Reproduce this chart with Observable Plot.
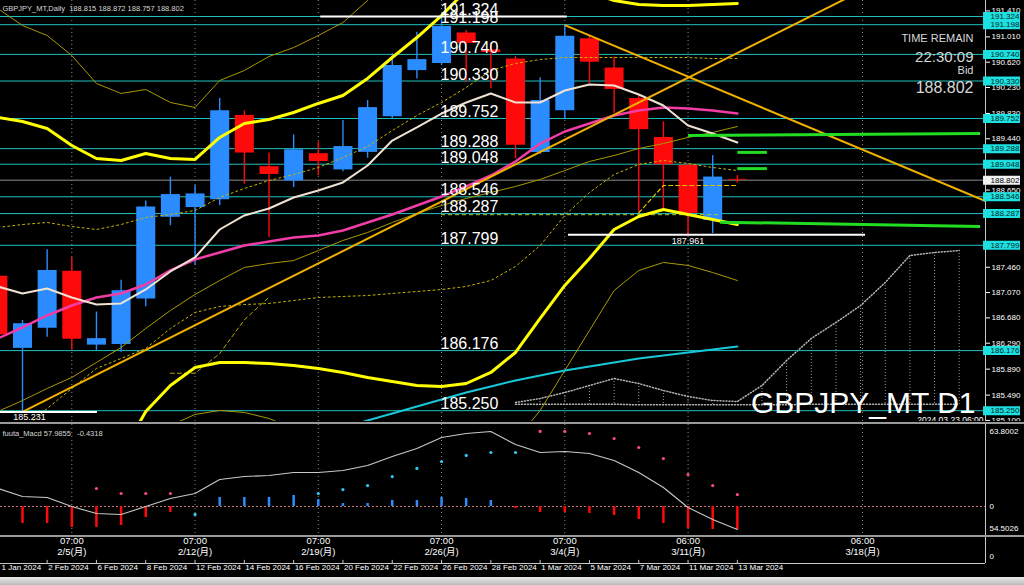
<!DOCTYPE html>
<html><head><meta charset="utf-8">
<script src="https://cdn.jsdelivr.net/npm/d3@7"></script>
<script src="https://cdn.jsdelivr.net/npm/@observablehq/plot@0.6"></script>
<style>
html,body{margin:0;padding:0;background:#000;}
#wrap{position:relative;width:1024px;height:585px;background:#000;overflow:hidden;}
#wrap > div{position:absolute;left:0;}
</style></head><body><div id="wrap"></div>
<script>
// ---------- DATA ----------
const dates = ["2024-01-31","2024-02-01","2024-02-02","2024-02-05","2024-02-06","2024-02-07","2024-02-08","2024-02-09","2024-02-12","2024-02-13","2024-02-14","2024-02-15","2024-02-16","2024-02-19","2024-02-20","2024-02-21","2024-02-22","2024-02-23","2024-02-26","2024-02-27","2024-02-28","2024-02-29","2024-03-01","2024-03-04","2024-03-05","2024-03-06","2024-03-07","2024-03-08","2024-03-11","2024-03-12","2024-03-13"];
const open  = [187.32,186.21,186.52,187.40,186.26,186.27,186.97,188.23,188.38,188.50,189.80,189.01,188.79,189.21,188.96,189.23,189.78,190.49,190.60,191.07,190.81,190.67,189.23,189.87,190.98,190.53,190.06,189.46,189.03,188.18,188.815];
const high  = [187.50,186.64,187.73,187.61,186.77,187.26,188.48,188.85,188.72,190.06,189.87,189.22,189.50,189.39,189.72,190.03,190.75,191.08,191.324,191.11,190.91,190.71,190.38,191.198,191.03,190.70,190.11,189.70,189.05,189.18,188.872];
const low   = [186.30,185.231,186.38,186.18,186.18,186.15,186.85,188.10,187.49,188.41,188.74,187.92,188.69,188.87,188.93,189.14,189.75,190.36,190.57,190.31,190.21,189.13,189.20,189.75,190.29,189.83,188.31,188.36,187.961,187.98,188.757];
const close = [186.42,186.59,187.41,186.35,186.36,187.10,188.39,188.58,188.59,189.87,189.22,188.89,189.27,189.09,189.32,189.92,190.57,190.66,191.17,190.91,190.77,189.34,190.03,191.02,190.62,190.20,189.58,189.04,188.29,188.85,188.802];

const maFast = [187.164,187.056,187.133,186.994,186.886,186.902,187.118,187.395,187.611,188.042,188.258,188.366,188.535,188.643,188.767,189.028,189.413,189.614,189.829,189.999,190.138,189.999,189.999,190.184,190.276,190.261,190.122,189.953,189.645,189.521,189.383];
const maMid = [186.363,186.532,186.717,186.871,186.994,187.056,187.195,187.411,187.580,187.688,187.796,187.857,187.919,187.950,188.027,188.150,188.273,188.412,188.551,188.705,188.874,189.090,189.367,189.552,189.675,189.799,189.876,189.922,189.906,189.876,189.829];
const maLong = [185.238,185.407,185.592,185.762,185.993,186.224,186.517,186.794,187.041,187.256,187.457,187.518,187.564,187.718,187.873,187.996,188.150,188.289,188.412,188.520,188.612,188.705,188.813,188.951,189.090,189.182,189.290,189.367,189.460,189.537,189.629];
const maSlow = [null,null,null,null,null,null,null,null,null,null,null,null,null,null,184.99,185.099,185.207,185.315,185.423,185.531,185.623,185.716,185.793,185.870,185.931,185.993,186.055,186.101,186.147,186.194,186.240];
const bandUp1 = [188.073,188.119,188.150,188.088,188.042,188.119,188.227,188.273,188.335,188.535,188.674,188.797,188.889,188.997,189.151,189.321,189.567,189.799,189.999,190.230,190.492,190.600,190.661,190.692,190.692,190.692,190.692,190.692,190.692,190.677,190.677];
const bandLo1 = [null,184.95,185.284,185.592,185.901,186.055,186.209,186.517,186.763,186.856,186.886,186.902,186.948,186.994,187.010,187.025,187.056,187.087,187.117,187.164,187.256,187.472,187.796,188.258,188.612,188.889,189.044,189.105,189.059,188.997,188.951];
const bandUp2 = [189.768,189.706,189.598,189.336,189.136,189.105,189.213,189.136,189.121,189.460,189.675,189.737,189.845,189.984,190.107,190.369,190.692,191.000,191.339,191.725,191.956,192.033,191.956,191.848,191.694,191.571,191.509,191.493,191.493,191.509,191.524];
const bandLo2 = [null,null,null,null,null,184.560,185.238,185.638,185.916,185.993,185.993,185.977,185.947,185.900,185.839,185.762,185.700,185.638,185.623,185.669,185.839,186.147,186.671,187.180,187.596,188.042,188.242,188.350,188.273,188.196,188.119];
const bandUp3 = [191.447,191.185,191.031,190.723,190.292,190.138,190.199,189.999,189.922,190.338,190.492,190.708,190.846,191.031,191.231,191.571,192.033,null,null,null,null,null,null,null,null,null,null,null,null,null,null];
const bandLo3 = [null,null,null,null,null,null,null,185.022,185.192,185.253,185.223,185.130,184.976,null,null,null,null,null,null,null,null,184.791,185.253,185.870,186.486,187.102,187.410,187.534,187.488,187.379,187.256];
const baseLineL = [null,null,null,null,null,null,null,185.827,185.827,186.13,186.65,187.0,null,null,null,null,null,null,null,null,null,null,null,null,null,null,null,null,null,null,null];
const baseLineR = [null,null,null,null,null,null,null,null,null,null,null,null,null,null,null,null,null,null,null,null,null,null,null,null,null,null,188.30,188.72,188.72,188.72,188.72];

const cloudStart = 20;
const cloudA = [185.376,185.438,185.530,185.638,185.746,185.669,185.561,185.469,185.407,185.392,185.638,186.024,186.363,186.609,186.871,187.226,187.641,187.688,187.718];
const cloudB = [185.35,185.35,185.35,185.35,185.35,185.34,185.34,185.34,185.34,185.34,185.34,185.34,185.35,185.35,185.35,185.35,185.35,185.35,185.35];

const levels = [191.324,191.198,190.740,190.330,189.752,189.288,189.048,188.546,188.287,187.799,186.176,185.250];
const bid = 188.802;
const priceTicks = [191.410,191.010,190.620,190.230,189.830,189.440,188.650,187.460,187.070,186.680,186.290,185.890,185.490,185.100];
const whiteLines = [{p:191.324, from:12.1, to:22.1}, {p:185.231, from:-0.9, to:3.04}, {p:187.961, from:22.15, to:34.2}];
const trendLines = [{i1:0, p1:185.231, i2:39.07, p2:192.68}, {i1:22, p1:191.19, i2:39.07, p2:188.48}];
const greenLines = [{i1:27, p1:189.49, i2:38.85, p2:189.52},{i1:29, p1:189.23, i2:30.2, p2:189.23},{i1:29, p1:188.98, i2:30.2, p2:188.98},{i1:28.3, p1:188.155, i2:38.85, p2:188.088}];
const dashedLevel = [{p:188.27, from:17, to:28.3}];

const macdLine = [14.0,7.8,7.0,0,-5.4,-6.2,0,6.2,10.1,21.0,23.3,24.1,26.5,26.5,28.0,31.9,38.9,45.1,53.7,56.8,58.4,48.2,42.0,42.8,41.2,35.8,26.5,14.8,-0.8,-10.1,-17.9];
const macdHist = [null,-13.2,-13.2,-16.3,-16.3,-14.8,-8.6,-4.7,0,7.0,7.0,7.0,8.6,5.4,2.3,2.3,4.7,4.7,7.0,6.2,4.7,-1.6,-4.7,-4.7,-5.4,-7.0,-10.1,-13.2,-17.1,-17.9,-17.9];
const macdSig = [null,null,null,null,14.0,10.1,10.1,10.1,-6.2,null,null,null,null,10.1,13.2,16.3,23.3,29.6,35.0,39.7,42.0,42.0,58.4,58.4,56.8,52.9,45.9,37.3,24.9,16.3,9.3];
const macdSigDir = ["","","","","dn","dn","dn","dn","up","","","","","up","up","up","up","up","up","up","up","up","dn","dn","dn","dn","dn","dn","dn","dn","dn"];

const axisDates = ["1 Jan 2024","2 Feb 2024","6 Feb 2024","8 Feb 2024","12 Feb 2024","14 Feb 2024","16 Feb 2024","20 Feb 2024","22 Feb 2024","26 Feb 2024","28 Feb 2024","1 Mar 2024","5 Mar 2024","7 Mar 2024","11 Mar 2024","13 Mar 2024"];
const axisDateIdx = [-0.89,1,3,5,7,9,11,13,15,17,19,21,23,25,27,29];
const jpTimes = ["07:00","07:00","07:00","07:00","07:00","06:00","06:00"];
const jpDates = ["2/5(月)","2/12(月)","2/19(月)","2/26(月)","3/4(月)","3/11(月)","3/18(月)"];
const jpIdx = [2,7,12,17,22,27,34.08];

// ---------- BUILD ----------
const X0 = -0.8925, X1 = 39.067;
const font = "'Liberation Sans', Arial, 'Noto Sans CJK JP', sans-serif";
const UP = "#2a8cff", DN = "#ff0a0a";
const series = arr => arr.map((v,k)=>({i:k-1, v}));
const bars = dates.map((d,k)=>({i:k-1, o:open[k], h:high[k], l:low[k], c:close[k]}));
const cloud = cloudA.map((a,k)=>({i:cloudStart+k, a, b:cloudB[k]}));
const fmt3 = d => d.toFixed(3);
const last = bars[bars.length-1];
const labelIdx = 17;

const wrap = document.getElementById("wrap");
function place(node, top){ const d=document.createElement("div"); d.style.top=top+"px"; d.appendChild(node); wrap.appendChild(d); return d; }
function bar(top,h,bg){ const d=document.createElement("div"); d.style.top=top+"px"; d.style.width="1024px"; d.style.height=h+"px"; d.style.background=bg; wrap.appendChild(d); }

const line = (arr, o) => Plot.line(series(arr), {x:"i", y:"v", clip:true, ...o});

const main = Plot.plot({
  width:1024, height:421, marginLeft:0, marginRight:39, marginTop:0, marginBottom:0,
  style:{background:"black", color:"white", fontFamily:font, fontSize:"8px"},
  color:{type:"identity"},
  x:{domain:[X0,X1], axis:null},
  y:{domain:[185.0835,191.5705], axis:"right", ticks:priceTicks, tickFormat:fmt3, tickSize:4, tickPadding:2, label:null},
  marks:[
    Plot.ruleX(jpIdx, {stroke:"#8a8a8a", strokeDasharray:"1,3"}),
    Plot.ruleX(cloud, {x:"i", y1:"a", y2:"b", stroke:"#9a9a9a", strokeDasharray:"1,2"}),
    Plot.line(cloud, {x:"i", y:"a", stroke:"#b4b4b4", strokeDasharray:"1,2"}),
    Plot.line(cloud, {x:"i", y:"b", stroke:"#b4b4b4", strokeDasharray:"1,2"}),
    Plot.ruleY(levels, {stroke:"#20c0c0"}),
    Plot.ruleY([bid], {stroke:"#8c8c8c"}),
    Plot.ruleX(bars, {x:"i", y1:"l", y2:"h", stroke:d=>d.c>=d.o?UP:DN, strokeWidth:1.4}),
    Plot.ruleX(bars, {x:"i", y1:"o", y2:"c", stroke:d=>d.c>=d.o?UP:DN, strokeWidth:19}),
    line(bandUp3, {stroke:"#a89800", strokeWidth:1}),
    line(bandLo3, {stroke:"#a89800", strokeWidth:1}),
    line(maLong, {stroke:"#a89800", strokeWidth:1}),
    line(bandUp1, {stroke:"#c8b400", strokeWidth:1, strokeDasharray:"2,3"}),
    line(bandLo1, {stroke:"#c8b400", strokeWidth:1, strokeDasharray:"2,3"}),
    line(baseLineL, {stroke:"#b8a800", strokeWidth:1, strokeDasharray:"4,3"}),
    line(baseLineR, {stroke:"#e0c000", strokeWidth:1.2, strokeDasharray:"4,3"}),
    Plot.ruleY(dashedLevel, {y:"p", x1:"from", x2:"to", stroke:"#b8c820", strokeDasharray:"4,3"}),
    line(bandUp2, {stroke:"#ffff00", strokeWidth:3}),
    line(bandLo2, {stroke:"#ffff00", strokeWidth:3}),
    line(maSlow, {stroke:"#18c8d8", strokeWidth:2}),
    line(maMid, {stroke:"#f23ca6", strokeWidth:2.5}),
    line(maFast, {stroke:"#f0e2d2", strokeWidth:2}),
    Plot.link(trendLines, {x1:"i1", y1:"p1", x2:"i2", y2:"p2", stroke:"#f0b000", strokeWidth:2, clip:true}),
    Plot.link(greenLines, {x1:"i1", y1:"p1", x2:"i2", y2:"p2", stroke:"#22dd22", strokeWidth:3}),
    Plot.ruleY(whiteLines, {y:"p", x1:"from", x2:"to", stroke:"white", strokeWidth:2}),
    Plot.text([whiteLines[1]], {x:()=>0, y:"p", text:d=>fmt3(d.p), dx:7, dy:5, fill:"white", fontSize:9}),
    Plot.text([whiteLines[2]], {x:()=>27, y:"p", text:d=>fmt3(d.p), dy:6, fill:"white", fontSize:9}),
    Plot.text(levels, {x:()=>labelIdx, y:d=>d, text:fmt3, textAnchor:"start", lineAnchor:"bottom", dx:-1, dy:-1.5, fill:"white", fontSize:16}),
    Plot.ruleX([X1], {stroke:"#c8c8c8"}),
    Plot.ruleY(levels, {y:d=>d, x1:()=>X1-0.08, x2:()=>X1+1.42, stroke:"#1ee0e0", strokeWidth:9}),
    Plot.text(levels, {y:d=>d, frameAnchor:"right", text:fmt3, dx:5, textAnchor:"start", fill:"#002828", fontSize:8}),
    Plot.ruleY([bid], {y:d=>d, x1:()=>X1-0.08, x2:()=>X1+1.42, stroke:"#f2f2f2", strokeWidth:9}),
    Plot.text([bid], {y:d=>d, frameAnchor:"right", text:fmt3, dx:5, textAnchor:"start", fill:"#000", fontSize:8}),
    Plot.text([`GBPJPY_MT,Daily  ${fmt3(last.o)} ${fmt3(last.h)} ${fmt3(last.l)} ${fmt3(last.c)}`], {frameAnchor:"top-left", text:d=>d, dx:2, dy:5, textAnchor:"start", fill:"#d8d8d8", fontSize:7.5}),
    Plot.text(["TIME REMAIN"], {frameAnchor:"top-right", text:d=>d, dx:-12, dy:34, textAnchor:"end", fill:"#d8d8d8", fontSize:11}),
    Plot.text(["22:30:09"], {frameAnchor:"top-right", text:d=>d, dx:-12, dy:51, textAnchor:"end", fill:"#d8d8d8", fontSize:15}),
    Plot.text(["Bid"], {frameAnchor:"top-right", text:d=>d, dx:-12, dy:66, textAnchor:"end", fill:"#d8d8d8", fontSize:11}),
    Plot.text([fmt3(bid)], {frameAnchor:"top-right", text:d=>d, dx:-12, dy:81, textAnchor:"end", fill:"#d8d8d8", fontSize:16}),
    Plot.text(["GBPJPY_MT D1"], {frameAnchor:"bottom-right", text:d=>d, dx:-10, dy:-9, textAnchor:"end", lineAnchor:"bottom", fill:"white", fontSize:30}),
    Plot.text(["2024.03.23 06:00"], {frameAnchor:"bottom-right", text:d=>d, dx:-2, dy:1, textAnchor:"end", lineAnchor:"bottom", fill:"white", fontSize:8.5})
  ]
});

const macdData = macdLine.map((m,k)=>({i:k-1, m, h:macdHist[k], s:macdSig[k], dir:macdSigDir[k]}));
const macd = Plot.plot({
  width:1024, height:111, marginLeft:0, marginRight:39, marginTop:0, marginBottom:0,
  style:{background:"black", color:"white", fontFamily:font, fontSize:"8px"},
  color:{type:"identity"},
  x:{domain:[X0,X1], axis:null},
  y:{domain:[-22.57,63.8], axis:null},
  marks:[
    Plot.ruleX(jpIdx, {stroke:"#8a8a8a", strokeDasharray:"1,3"}),
    Plot.ruleY([0], {stroke:"#c87878", strokeDasharray:"2,2"}),
    Plot.ruleX(macdData.filter(d=>d.h!=null && d.h!==0), {x:"i", y1:()=>0, y2:"h", stroke:d=>d.h<0?DN:UP, strokeWidth:2.5}),
    Plot.line(macdData, {x:"i", y:"m", stroke:"#c8c8c8", strokeWidth:1.1}),
    Plot.dot(macdData.filter(d=>d.s!=null), {x:"i", y:"s", r:1.6, fill:d=>d.dir==="up"?"#30c8f0":"#ff4a80", stroke:"none"}),
    Plot.ruleX([X1], {stroke:"#c8c8c8"}),
    Plot.text(["fuuta_Macd 57.9855   -0.4318"], {frameAnchor:"top-left", text:d=>d, dx:2, dy:6, textAnchor:"start", fill:"#d8d8d8", fontSize:7.5}),
    Plot.text(["63.8002"], {frameAnchor:"top-right", text:d=>d, dx:4, dy:4, textAnchor:"start", fill:"white", fontSize:8}),
    Plot.text([0], {y:d=>d, frameAnchor:"right", text:()=>"0", dx:4, textAnchor:"start", fill:"white", fontSize:8}),
    Plot.text(["54.5026"], {frameAnchor:"bottom-right", text:d=>d, dx:4, dy:-5, textAnchor:"start", fill:"white", fontSize:8})
  ]
});

const jp = jpIdx.map((i,k)=>({i, t:jpTimes[k], d:jpDates[k]}));
const ad = axisDateIdx.map((i,k)=>({i, t:axisDates[k]}));
const dax = Plot.plot({
  width:1024, height:40, marginLeft:0, marginRight:39, marginTop:0, marginBottom:14,
  style:{background:"black", color:"white", fontFamily:font, fontSize:"8px"},
  x:{domain:[X0,X1], axis:null},
  y:{domain:[0,1], axis:null},
  marks:[
    Plot.text(jp, {x:"i", y:()=>0.885, text:"t", fill:"white", fontSize:9.5}),
    Plot.text(jp, {x:"i", y:()=>0.46, text:"d", fill:"white", fontSize:9.5}),
    Plot.ruleY([0], {x1:()=>X0, x2:()=>X1, stroke:"#c8c8c8"}),
    Plot.ruleX([X1], {y1:()=>0, y2:()=>1, stroke:"#c8c8c8"}),
    Plot.ruleX(ad.slice(1), {x:"i", y1:()=>0, y2:()=>0.12, stroke:"#c8c8c8"}),
    Plot.text(ad, {x:"i", frameAnchor:"bottom", text:"t", dy:6, dx:1, textAnchor:"start", fill:"white", fontSize:8}),
    Plot.text(["0"], {frameAnchor:"bottom-right", text:d=>d, dx:4, dy:-5, textAnchor:"start", fill:"white", fontSize:8})
  ]
});

place(main, 0);
bar(421, 1, "#000");
bar(422, 2, "#9a9a9a");
place(macd, 424);
bar(535, 2, "#9a9a9a");
place(dax, 537);
bar(577, 8, "linear-gradient(#e8e8e8,#bcbcbc)");
</script></body></html>
